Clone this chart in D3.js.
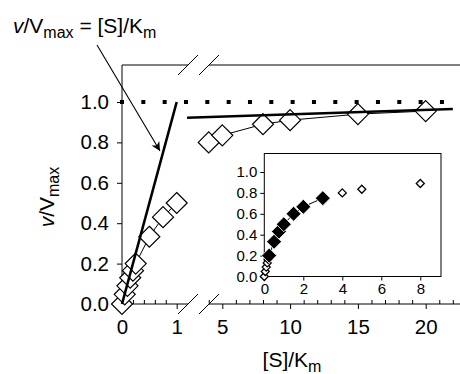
<!DOCTYPE html>
<html><head><meta charset="utf-8">
<script src="https://cdn.jsdelivr.net/npm/d3@7"></script>
<style>body{margin:0;background:#fff}svg{display:block}text{font-family:"Liberation Sans",Arial,sans-serif;fill:#000}</style>
</head><body><svg id="c" width="460" height="374"></svg>
<script>
// ---- data ----
const seg1S = [0, 0.05, 0.1, 0.15, 0.2, 0.25, 0.5, 0.75, 1];
const seg1V = [0, 0.048, 0.09, 0.13, 0.165, 0.2, 0.333, 0.43, 0.5];
const seg2S = [4, 5, 8, 10, 15, 20];
const seg2V = [0.8, 0.835, 0.89, 0.91, 0.94, 0.955];
const linearS = [0, 1];          // v/Vmax = [S]/Km
const linearV = [0, 1];
const fitS = [2.4, 22];          // high-[S] fit line
const fitV = [0.922, 0.965];
const vmax = 1.0;
const insetFilledS = [0.25, 0.5, 0.75, 1, 1.5, 2, 3];
const insetFilledV = [0.2, 0.333, 0.43, 0.5, 0.6, 0.667, 0.75];
const insetOpenS = [0, 0.05, 0.1, 0.15, 0.2, 4, 5, 8];
const insetOpenV = [0, 0.048, 0.09, 0.13, 0.165, 0.8, 0.835, 0.89];
const yTicks = [0, 0.2, 0.4, 0.6, 0.8, 1.0];
const x1Major = [0, 1], x1Minor = [0.2, 0.4, 0.6, 0.8];
const x2Major = [5, 10, 15, 20], x2Minor = [4,6,7,8,9,11,12,13,14,16,17,18,19,21,22];
const insetXTicks = [0, 2, 4, 6, 8];
const insetYTicks = [0, 0.2, 0.4, 0.6, 0.8, 1.0];

const FONT = "Liberation Sans, Arial, sans-serif";
const svg = d3.select("#c");
const x1 = d3.scaleLinear().domain([0, 1]).range([122, 176.7]);
const x2 = d3.scaleLinear().domain([5, 20]).range([222.3, 425.7]);
const y = d3.scaleLinear().domain([0, 1]).range([304, 102]);
const topY = 65, brk1 = 188, brk2 = 209;

const g = svg.append("g");
const ln = (ax, ay, bx, by, w) => g.append("line").attr("x1", ax).attr("y1", ay).attr("x2", bx).attr("y2", by).attr("stroke", "#000").attr("stroke-width", w || 1);
ln(x1(0), topY, x1(0), y(0));
ln(x1(0), topY, brk1, topY); ln(brk2, topY, 460, topY);
ln(x1(0), y(0), brk1, y(0)); ln(brk2, y(0), 460, y(0));
[brk1, brk2].forEach(b => { [topY, y(0)].forEach(yy => ln(b - 10, yy + 10, b + 10, yy - 10)); });

// y axis ticks
const yAx = g.append("g").attr("transform", `translate(${x1(0)},0)`)
  .call(d3.axisLeft(y).tickValues(yTicks).tickFormat(d3.format(".1f")).tickSize(5).tickPadding(8));
yAx.select(".domain").remove();
yAx.selectAll("text").style("font-size", "20.5px").style("font-family", FONT);

function xAxis(scale, major, minor) {
  const a = g.append("g").attr("transform", `translate(0,${y(0)})`)
    .call(d3.axisBottom(scale).tickValues(major).tickFormat(d3.format("d")).tickSize(5).tickPadding(10));
  a.select(".domain").remove();
  a.selectAll("text").style("font-size", "20.5px").style("font-family", FONT);
  const m = g.append("g").attr("transform", `translate(0,${y(0)})`)
    .call(d3.axisBottom(scale).tickValues(minor).tickFormat("").tickSize(-4));
  m.select(".domain").remove();
}
xAxis(x1, x1Major, x1Minor);
xAxis(x2, x2Major, x2Minor);

// dotted Vmax
g.append("line").attr("x1", x1(0) - 2).attr("x2", x2(21.5)).attr("y1", y(vmax)).attr("y2", y(vmax))
  .attr("stroke", "#000").attr("stroke-width", 4).attr("stroke-dasharray", "4,17.33");

const diamond = (r) => `M0,${-r}L${r},0L0,${r}L${-r},0Z`;
const p1 = seg1S.map((s, i) => [x1(s), y(seg1V[i])]);
g.append("path").attr("d", d3.line()(p1)).attr("fill", "none").attr("stroke", "#000").attr("stroke-width", 1);
g.selectAll(".d1").data(p1).join("path").attr("d", diamond(10.5)).attr("transform", d => `translate(${d[0]},${d[1]})`)
  .attr("fill", "#fff").attr("stroke", "#000").attr("stroke-width", 1.2);
const p2 = seg2S.map((s, i) => [x2(s), y(seg2V[i])]);
g.append("path").attr("d", d3.line()(p2)).attr("fill", "none").attr("stroke", "#000").attr("stroke-width", 1);
g.selectAll(".d2").data(p2).join("path").attr("d", diamond(10.5)).attr("transform", d => `translate(${d[0]},${d[1]})`)
  .attr("fill", "#fff").attr("stroke", "#000").attr("stroke-width", 1.2);

// thick lines
g.append("path").attr("d", d3.line()(linearS.map((s, i) => [x1(s), y(linearV[i])]))).attr("stroke", "#000").attr("stroke-width", 2.6).attr("fill", "none");
g.append("path").attr("d", d3.line()(fitS.map((s, i) => [x2(s), y(fitV[i])]))).attr("stroke", "#000").attr("stroke-width", 2.6).attr("fill", "none");

// inset
const xi = d3.scaleLinear().domain([0, 8]).range([264.3, 420.3]);
const yi = d3.scaleLinear().domain([0, 1]).range([276.5, 172]);
const ig = svg.append("g");
ig.append("rect").attr("x", xi(0)).attr("y", 153.5).attr("width", 441 - xi(0)).attr("height", yi(0) - 153.5)
  .attr("fill", "#fff").attr("stroke", "#000").attr("stroke-width", 1);
const ixa = ig.append("g").attr("transform", `translate(0,${yi(0)})`)
  .call(d3.axisBottom(xi).tickValues(insetXTicks).tickFormat(d3.format("d")).tickSize(4).tickPadding(3));
ixa.select(".domain").remove();
ixa.selectAll("text").style("font-size", "15px").style("font-family", FONT);
const iya = ig.append("g").attr("transform", `translate(${xi(0)},0)`)
  .call(d3.axisLeft(yi).tickValues(insetYTicks).tickFormat(d3.format(".1f")).tickSize(4).tickPadding(3));
iya.select(".domain").remove();
iya.selectAll("text").style("font-size", "15px").style("font-family", FONT);

const pf = insetFilledS.map((s, i) => [xi(s), yi(insetFilledV[i])]);
ig.append("path").attr("d", d3.line()(pf)).attr("fill", "none").attr("stroke", "#000").attr("stroke-width", 1);
const po = insetOpenS.map((s, i) => [xi(s), yi(insetOpenV[i])]);
ig.selectAll(".io").data(po).join("path").attr("d", diamond(4)).attr("transform", d => `translate(${d[0]},${d[1]})`)
  .attr("fill", "#fff").attr("stroke", "#000").attr("stroke-width", 1.3);
ig.selectAll(".if").data(pf).join("path").attr("d", diamond(7.5)).attr("transform", d => `translate(${d[0]},${d[1]})`)
  .attr("fill", "#000").attr("stroke", "#fff").attr("stroke-width", 0.8);

// titles
const t = svg.append("text").attr("x", 13).attr("y", 33).style("font-size", "21px");
t.append("tspan").text("v").style("font-style", "italic");
t.append("tspan").text("/V");
t.append("tspan").text("max").attr("dy", 5).style("font-size", "16px");
t.append("tspan").text(" = [S]/K").attr("dy", -5);
t.append("tspan").text("m").attr("dy", 5).style("font-size", "16px");

const yt = svg.append("text").attr("transform", "translate(54,197) rotate(-90)").attr("text-anchor", "middle").style("font-size", "21px");
yt.append("tspan").text("v").style("font-style", "italic");
yt.append("tspan").text("/V");
yt.append("tspan").text("max").attr("dy", 5).style("font-size", "16px");

const xt = svg.append("text").attr("x", 292).attr("y", 367).attr("text-anchor", "middle").style("font-size", "21px");
xt.append("tspan").text("[S]/K");
xt.append("tspan").text("m").attr("dy", 5).style("font-size", "16px");

// arrow annotation
svg.append("defs").append("marker").attr("id", "ah").attr("viewBox", "0 0 10 10").attr("refX", 10).attr("refY", 5)
  .attr("markerWidth", 13).attr("markerHeight", 9).attr("markerUnits", "userSpaceOnUse").attr("orient", "auto")
  .append("path").attr("d", "M0,0L10,5L0,10L3,5Z").attr("fill", "#000");
svg.append("line").attr("x1", 97).attr("y1", 45).attr("x2", 160).attr("y2", 151).attr("stroke", "#000").attr("stroke-width", 1.1).attr("marker-end", "url(#ah)");
</script></body></html>
